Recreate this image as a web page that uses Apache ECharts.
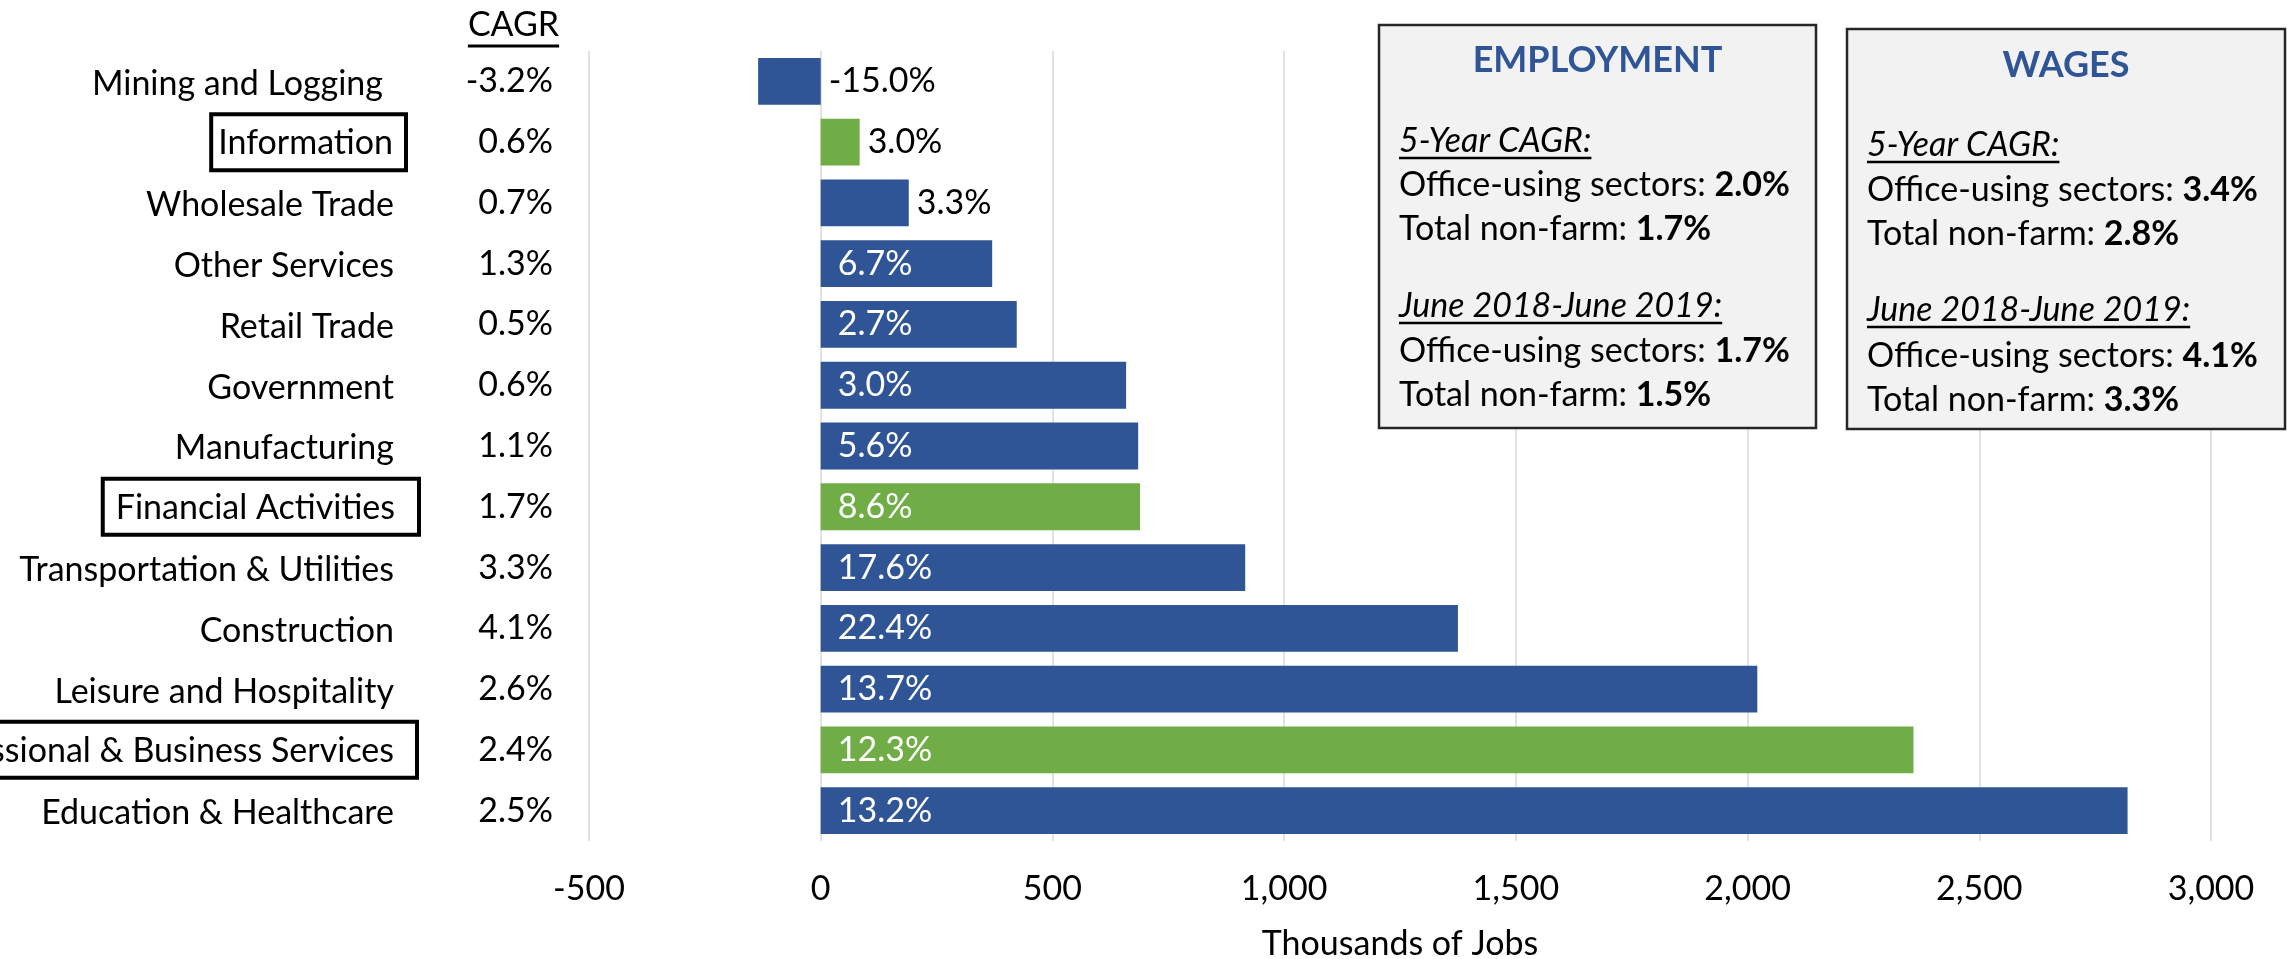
<!DOCTYPE html>
<html>
<head>
<meta charset="utf-8">
<script src="https://cdn.jsdelivr.net/npm/echarts@6/dist/echarts.min.js"></script>
<style>
  html, body { margin: 0; padding: 0; background: #fff; }
  #chart { width: 2287px; height: 959px; }
</style>
</head>
<body>
<div id="chart"></div>
<script>
// ---------- data ----------
const categories = ['Mining and Logging', 'Information', 'Wholesale Trade', 'Other Services', 'Retail Trade', 'Government', 'Manufacturing', 'Financial Activities', 'Transportation & Utilities', 'Construction', 'Leisure and Hospitality', 'Professional & Business Services', 'Education & Healthcare'];
const jobsAdded = [-135, 84, 190, 370, 423, 659, 685, 689, 916, 1375, 2021, 2358, 2820];
const growthLabels = ['-15.0%', '3.0%', '3.3%', '6.7%', '2.7%', '3.0%', '5.6%', '8.6%', '17.6%', '22.4%', '13.7%', '12.3%', '13.2%'];
const cagrLabels = ['-3.2%', '0.6%', '0.7%', '1.3%', '0.5%', '0.6%', '1.1%', '1.7%', '3.3%', '4.1%', '2.6%', '2.4%', '2.5%'];
const officeUsing = ['Information', 'Financial Activities', 'Professional & Business Services'];
const xTicks = [-500, 0, 500, 1000, 1500, 2000, 2500, 3000];
const empValues = ['2.0%', '1.7%', '1.7%', '1.5%'];
const wageValues = ['3.4%', '2.8%', '4.1%', '3.3%'];

// ---------- style ----------
const FONT = 'Lato';
const FS = 34;
const BLUE = '#2F5597';
const GREEN = '#70AD47';

function textWidth(text, font) {
  const ctx = document.createElement('canvas').getContext('2d');
  ctx.font = font;
  return ctx.measureText(text).width;
}

const chart = echarts.init(document.getElementById('chart'), null, { renderer: 'canvas' });

function catFormatter(value) {
  if (value === 'Information') return '{bi|' + value + '}{sp14| }';
  if (value === 'Financial Activities') return '{bf|' + value + '}{sp1| }';
  if (value === 'Professional & Business Services') return '{bp|' + value + '}{sp3| }';
  if (value === 'Mining and Logging') return '{n|' + value + '}{sp37| }';
  return '{n|' + value + '}{sp26| }';
}

const baseText = { fontFamily: FONT, fontSize: FS, color: '#000', lineHeight: 34, padding: [5, 0, 0, 0] };
const boxBase = { fontFamily: FONT, fontSize: FS, color: '#000', lineHeight: 34, borderColor: '#000', borderWidth: 4 };

// ---------- info boxes ----------
function infoBox(left, top, width, height, title, titleY, lineYs, values) {
  const tx = left + 20;
  const els = [];
  els.push({ type: 'rect', shape: { x: left, y: top, width: width, height: height },
    style: { fill: '#F2F2F2', stroke: '#262626', lineWidth: 2.5 }, z: 10 });
  els.push({ type: 'text', x: left + width / 2, y: titleY,
    style: { text: title, fontFamily: FONT, fontWeight: 'bold', fontSize: 36, fill: BLUE, align: 'center', verticalAlign: 'middle' }, z: 11 });
  const heads = ['5-Year CAGR:', 'June 2018-June 2019:'];
  const rowLabels = ['Office-using sectors: ', 'Total non-farm: '];
  for (let g = 0; g < 2; g++) {
    const hy = lineYs[g * 3];
    els.push({ type: 'text', x: tx, y: hy,
      style: { text: heads[g], fontFamily: FONT, fontStyle: 'italic', fontSize: FS, fill: '#000', align: 'left', verticalAlign: 'middle' }, z: 11 });
    const w = textWidth(heads[g], 'italic ' + FS + 'px ' + FONT);
    els.push({ type: 'line', shape: { x1: tx, y1: hy + 17, x2: tx + w, y2: hy + 17 },
      style: { stroke: '#000', lineWidth: 2.5 }, z: 11 });
    for (let r = 0; r < 2; r++) {
      els.push({ type: 'text', x: tx, y: lineYs[g * 3 + 1 + r],
        style: { text: '{r|' + rowLabels[r] + '}{b|' + values[g * 2 + r] + '}',
          rich: { r: { fontFamily: FONT, fontSize: FS, fill: '#000' }, b: { fontFamily: FONT, fontSize: FS, fontWeight: 'bold', fill: '#000' } },
          align: 'left', verticalAlign: 'middle' }, z: 11 });
    }
  }
  return els;
}

const cagrW = textWidth('CAGR', FS + 'px ' + FONT);
const graphics = [
  { type: 'text', x: 513.5, y: 25, style: { text: 'CAGR', fontFamily: FONT, fontSize: FS, fill: '#000', align: 'center', verticalAlign: 'middle' } },
  { type: 'line', shape: { x1: 513.5 - cagrW / 2, y1: 46, x2: 513.5 + cagrW / 2, y2: 46 }, style: { stroke: '#000', lineWidth: 3 } }
].concat(
  infoBox(1379, 25, 437, 403, 'EMPLOYMENT', 60, [141, 185, 229, 306, 351, 395], empValues),
  infoBox(1847, 29, 438, 400, 'WAGES', 65, [145, 190, 234, 310, 356, 400], wageValues)
);

const option = {
  animation: false,
  backgroundColor: '#fff',
  textStyle: { fontFamily: FONT },
  grid: { left: 589, right: 76, top: 51, bottom: 118, containLabel: false, outerBoundsMode: 'none' },
  xAxis: {
    type: 'value', min: xTicks[0], max: xTicks[xTicks.length - 1], interval: 500,
    axisLine: { show: false }, axisTick: { show: false },
    splitLine: { show: true, lineStyle: { color: '#D9D9D9', width: 1.5 } },
    axisLabel: { fontFamily: FONT, fontSize: FS, color: '#000', margin: 31,
      formatter: v => v.toLocaleString('en-US') },
    name: 'Thousands of Jobs', nameLocation: 'middle', nameGap: 86,
    nameTextStyle: { fontFamily: FONT, fontSize: FS, color: '#000' }
  },
  yAxis: [
    {
      type: 'category', data: categories, inverse: true,
      axisLine: { show: false }, axisTick: { show: false }, splitLine: { show: false },
      axisLabel: {
        interval: 0, margin: 169, formatter: catFormatter,
        rich: {
          n: baseText,
          bi: Object.assign({}, boxBase, { padding: [12, 13, 10, 7] }),
          bf: Object.assign({}, boxBase, { padding: [12, 24, 10, 13] }),
          bp: Object.assign({}, boxBase, { padding: [12, 23, 10, 13] }),
          sp1: { width: 1, fontSize: FS }, sp3: { width: 3, fontSize: FS }, sp14: { width: 14, fontSize: FS },
          sp26: { width: 26, fontSize: FS }, sp37: { width: 37, fontSize: FS }
        }
      }
    },
    {
      type: 'category', data: cagrLabels, inverse: true, position: 'left', offset: 0,
      axisLine: { show: false }, axisTick: { show: false }, splitLine: { show: false },
      axisLabel: { interval: 0, margin: 36, fontFamily: FONT, fontSize: FS, color: '#000', padding: [5, 0, 0, 0] }
    }
  ],
  series: [{
    type: 'bar', yAxisIndex: 0, barCategoryGap: '23%',
    data: jobsAdded.map((v, i) => ({
      value: v,
      itemStyle: { color: officeUsing.indexOf(categories[i]) >= 0 ? GREEN : BLUE },
      label: v < 250
        ? { show: true, position: 'right', distance: 8, color: '#000' }
        : { show: true, position: 'insideLeft', distance: 17, color: '#fff' }
    })),
    label: { show: true, fontFamily: FONT, fontSize: FS, padding: [5, 0, 0, 0], formatter: p => growthLabels[p.dataIndex] }
  }],
  graphic: graphics
};

chart.setOption(option);
</script>
</body>
</html>
